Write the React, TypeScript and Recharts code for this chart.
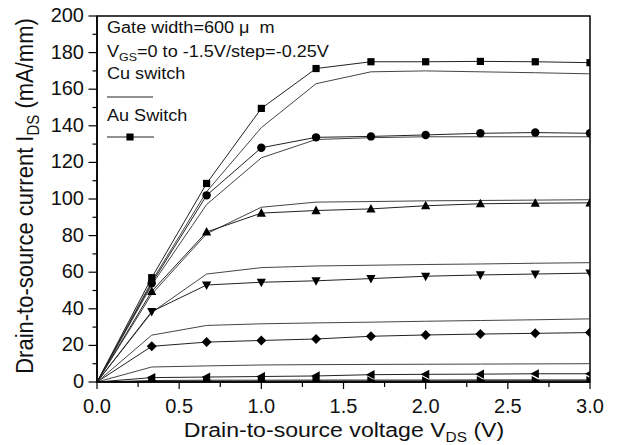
import React from "react";
import { LineChart, Line, XAxis, YAxis, ReferenceArea } from "recharts";

// drain-to-source voltage (V)
const vds = [0, 0.333, 0.667, 1.0, 1.333, 1.667, 2.0, 2.333, 2.667, 3.0];

// Au switch, VGS = 0 ... -1.5 V (mA/mm)
const auVgs0 = [0, 57, 108.5, 149.5, 171.3, 175, 175, 175.2, 175, 174.5];
const auVgs025 = [0, 54, 102, 128, 133.7, 134.2, 135, 135.9, 136.3, 135.9];
const auVgs050 = [0, 49.5, 82, 92.3, 93.7, 94.6, 96.3, 97.4, 97.7, 97.9];
const auVgs075 = [0, 38.5, 53, 54.5, 55.3, 56.5, 57.8, 58.5, 59, 59.5];
const auVgs100 = [0, 19.5, 21.8, 22.7, 23.5, 25, 25.7, 26.2, 26.6, 27];
const auVgs125 = [0, 2.4, 2.7, 3, 3.3, 4, 4.2, 4.3, 4.5, 4.5];
const auVgs150 = [0, 0.5, 0.5, 0.5, 0.6, 0.6, 0.6, 0.7, 0.7, 0.7];

// Cu switch, VGS = 0 ... -1.5 V (mA/mm)
const cuVgs0 = [0, 55, 104, 139, 163, 169.5, 170, 169.5, 169, 168.4];
const cuVgs025 = [0, 53, 97, 122.5, 132.5, 133.5, 134, 134, 134, 134];
const cuVgs050 = [0, 48, 81, 95.5, 98.3, 98.6, 99, 99.2, 99.4, 99.6];
const cuVgs075 = [0, 38, 59, 62.5, 63.4, 63.8, 64.2, 64.5, 64.9, 65.2];
const cuVgs100 = [0, 25.6, 30.9, 31.8, 32.3, 32.7, 33.2, 33.6, 34, 34.5];
const cuVgs125 = [0, 8.2, 8.8, 9.3, 9.5, 9.6, 9.7, 9.8, 9.9, 10];
const cuVgs150 = [0, 0.8, 1, 1, 1.1, 1.1, 1.1, 1.2, 1.2, 1.2];

const xTicks = [0, 0.25, 0.5, 0.75, 1, 1.25, 1.5, 1.75, 2, 2.25, 2.5, 2.75, 3];
const yTicks = [
  0, 10, 20, 30, 40, 50, 60, 70, 80, 90, 100, 110, 120, 130, 140, 150, 160, 170,
  180, 190, 200,
];

const auSeries = [auVgs0, auVgs025, auVgs050, auVgs075, auVgs100, auVgs125, auVgs150];
const cuSeries = [cuVgs0, cuVgs025, cuVgs050, cuVgs075, cuVgs100, cuVgs125, cuVgs150];
const shapes = ["square", "circle", "up", "down", "diamond", "left", "right"];

const data = vds.map((x, i) => {
  const row: any = { x };
  auSeries.forEach((s, k) => (row["au" + k] = s[i]));
  cuSeries.forEach((s, k) => (row["cu" + k] = s[i]));
  return row;
});

const FONT = "'Liberation Sans', Arial, Helvetica, sans-serif";

function Marker({ shape, cx, cy }: any) {
  if (cx == null || cy == null) return null;
  if (shape === "circle") return <circle cx={cx} cy={cy} r={4.2} fill="#000" />;
  let d = "";
  switch (shape) {
    case "square":
      d = `M${cx - 3.6},${cy - 3.6}h7.2v7.2h-7.2z`;
      break;
    case "up":
      d = `M${cx},${cy - 5}L${cx + 4.6},${cy + 3.6}L${cx - 4.6},${cy + 3.6}Z`;
      break;
    case "down":
      d = `M${cx},${cy + 5}L${cx + 4.6},${cy - 3.6}L${cx - 4.6},${cy - 3.6}Z`;
      break;
    case "diamond":
      d = `M${cx},${cy - 5}L${cx + 5},${cy}L${cx},${cy + 5}L${cx - 5},${cy}Z`;
      break;
    case "left":
      d = `M${cx - 5},${cy}L${cx + 3.6},${cy - 4.6}L${cx + 3.6},${cy + 4.6}Z`;
      break;
    case "right":
      d = `M${cx + 5},${cy}L${cx - 3.6},${cy - 4.6}L${cx - 3.6},${cy + 4.6}Z`;
      break;
  }
  return <path d={d} fill="#000" />;
}

function XTick(props: any) {
  const { x, y, payload } = props;
  const v = payload.value;
  const major = Math.abs(v * 2 - Math.round(v * 2)) < 1e-6;
  return (
    <g>
      <line x1={x} y1={y} x2={x} y2={y + (major ? 7 : 5)} stroke="#000" strokeWidth={1.2} />
      {major && (
        <text x={x} y={y + 31} textAnchor="middle" fontSize={20} fontFamily={FONT} fill="#111">
          {v.toFixed(1)}
        </text>
      )}
    </g>
  );
}

function YTick(props: any) {
  const { x, y, payload } = props;
  const v = payload.value;
  const major = v % 20 === 0;
  return (
    <g>
      <line x1={x - (major ? 8.5 : 4.5)} y1={y} x2={x} y2={y} stroke="#000" strokeWidth={1.2} />
      {major && (
        <text x={x - 13} y={y + 6} textAnchor="end" fontSize={20} fontFamily={FONT} fill="#111">
          {v}
        </text>
      )}
    </g>
  );
}

export default function App() {
  return (
    <div style={{ position: "absolute", left: 0, top: 0, width: 619, height: 445, background: "#fff" }}>
      <LineChart
        width={619}
        height={445}
        data={data}
        margin={{ top: 16, right: 29, bottom: 0, left: 0 }}
      >
        <XAxis
          dataKey="x"
          type="number"
          domain={[0, 3]}
          allowDataOverflow
          ticks={xTicks}
          interval={0}
          tickSize={0}
          tickMargin={0}
          tick={(p: any) => <XTick {...p} />}
          axisLine={{ stroke: "#000", strokeWidth: 1.5 }}
          height={63}
        />
        <YAxis
          type="number"
          domain={[0, 200]}
          allowDataOverflow
          ticks={yTicks}
          interval={0}
          tickSize={0}
          tickMargin={0}
          tick={(p: any) => <YTick {...p} />}
          axisLine={{ stroke: "#000", strokeWidth: 1.5 }}
          width={97}
        />
        {cuSeries.map((_, k) => (
          <Line
            key={"cu" + k}
            dataKey={"cu" + k}
            type="linear"
            stroke="#444"
            strokeWidth={1}
            dot={false}
            activeDot={false}
            isAnimationActive={false}
          />
        ))}
        {auSeries.map((_, k) => (
          <Line
            key={"au" + k}
            dataKey={"au" + k}
            type="linear"
            stroke="#222"
            strokeWidth={1}
            dot={(p: any) =>
              p.index === 0 ? (
                <g key={`m${k}-${p.index}`} />
              ) : (
                <Marker key={`m${k}-${p.index}`} shape={shapes[k]} cx={p.cx} cy={p.cy} />
              )
            }
            activeDot={false}
            isAnimationActive={false}
          />
        ))}
        <ReferenceArea x1={0} x2={3} y1={0} y2={200} fill="none" stroke="#000" strokeWidth={1.5} />
      </LineChart>
      <svg
        width={619}
        height={445}
        style={{ position: "absolute", left: 0, top: 0, pointerEvents: "none" }}
        fontFamily={FONT}
        fill="#111"
      >
        <g transform="translate(107,0) scale(1.13,1)" fontSize={16}>
          <text x={0} y={33}>{"Gate width=600 μ\u00a0\u00a0m"}</text>
          <text x={0} y={57}>
            V<tspan fontSize={11} dy={4}>GS</tspan>
            <tspan dy={-4}>=0 to -1.5V/step=-0.25V</tspan>
          </text>
          <text x={0} y={79}>Cu switch</text>
          <text x={0} y={121}>Au Switch</text>
        </g>
        <line x1={107} y1={97} x2={153} y2={97} stroke="#222" strokeWidth={1} />
        <line x1={107} y1={137} x2={154} y2={137} stroke="#222" strokeWidth={1} />
        <Marker shape="square" cx={130} cy={137} />
        <text
          transform="translate(344,437) scale(1.1,1)"
          textAnchor="middle"
          fontSize={21}
        >
          Drain-to-source voltage V<tspan fontSize={14} dy={5}>DS</tspan>
          <tspan dy={-5}> (V)</tspan>
        </text>
        <text
          transform="translate(33,196) scale(1.12,1) rotate(-90)"
          textAnchor="middle"
          fontSize={22}
        >
          Drain-to-source current I<tspan fontSize={15} dy={5}>DS</tspan>
          <tspan dy={-5}> (mA/mm)</tspan>
        </text>
      </svg>
    </div>
  );
}
